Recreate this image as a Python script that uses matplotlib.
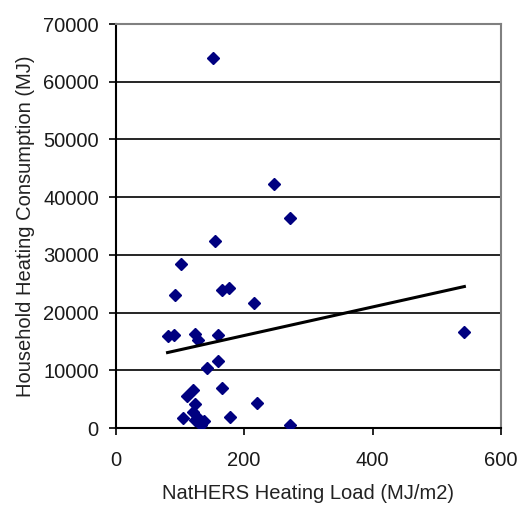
import matplotlib
matplotlib.use("Agg")
import matplotlib.pyplot as plt
import numpy as np

plt.rcParams['font.family'] = ['Liberation Sans', 'DejaVu Sans']

# Data
heating_load = [152, 246, 272, 155, 102, 92, 165, 176, 215, 81,
                91, 124, 128, 159, 159, 143, 165, 121, 112, 220,
                124, 105, 121, 129, 124, 133, 137, 178, 272, 543]
heating_consumption = [64100, 42200, 36400, 32400, 28400, 23000, 23900, 24300, 21700, 16000,
                       16200, 16300, 15200, 16200, 11600, 10400, 7000, 6600, 5500, 4400,
                       4100, 1700, 2700, 1800, 1300, 600, 1200, 1900, 600, 16700]
x_ticks = [0, 200, 400, 600]
y_ticks = [0, 10000, 20000, 30000, 40000, 50000, 60000, 70000]
x_label = "NatHERS Heating Load (MJ/m2)"
y_label = "Household Heating Consumption (MJ)"

x = np.array(heating_load, dtype=float)
y = np.array(heating_consumption, dtype=float)

fig = plt.figure(figsize=(5.18, 5.07), dpi=100)
ax = fig.add_axes([115.5/518, 79/507, (501-115.5)/518, (428-24)/507])

for v in y_ticks[1:-1]:
    ax.axhline(v, color='black', lw=1.2, zorder=1)

ax.plot(x, y, linestyle='none', marker='D', markersize=6,
        color='#000080', zorder=3)

slope, intercept = np.polyfit(x, y, 1)
xs = np.array([x.min(), x.max()])
ax.plot(xs, slope*xs + intercept, color='black', lw=2.2, zorder=4)

ax.set_xlim(0, 600)
ax.set_ylim(0, 70000)
ax.set_xticks(x_ticks)
ax.set_yticks(y_ticks)
ax.tick_params(direction='out', length=5, width=1.2, labelsize=14.5,
               colors='black', labelcolor='#1a1a1a')
ax.tick_params(axis='y', pad=7)
ax.tick_params(axis='x', pad=11.5)

for s in ['left', 'bottom']:
    ax.spines[s].set_color('black')
    ax.spines[s].set_linewidth(1.5)
for s in ['top', 'right']:
    ax.spines[s].set_color('#808080')
    ax.spines[s].set_linewidth(1.5)

ax.set_xlabel(x_label, fontsize=14.5, color='#222222', labelpad=10)
ax.set_ylabel(y_label, fontsize=14.5, color='#222222', labelpad=6)

fig.savefig("out.png", dpi=100)
